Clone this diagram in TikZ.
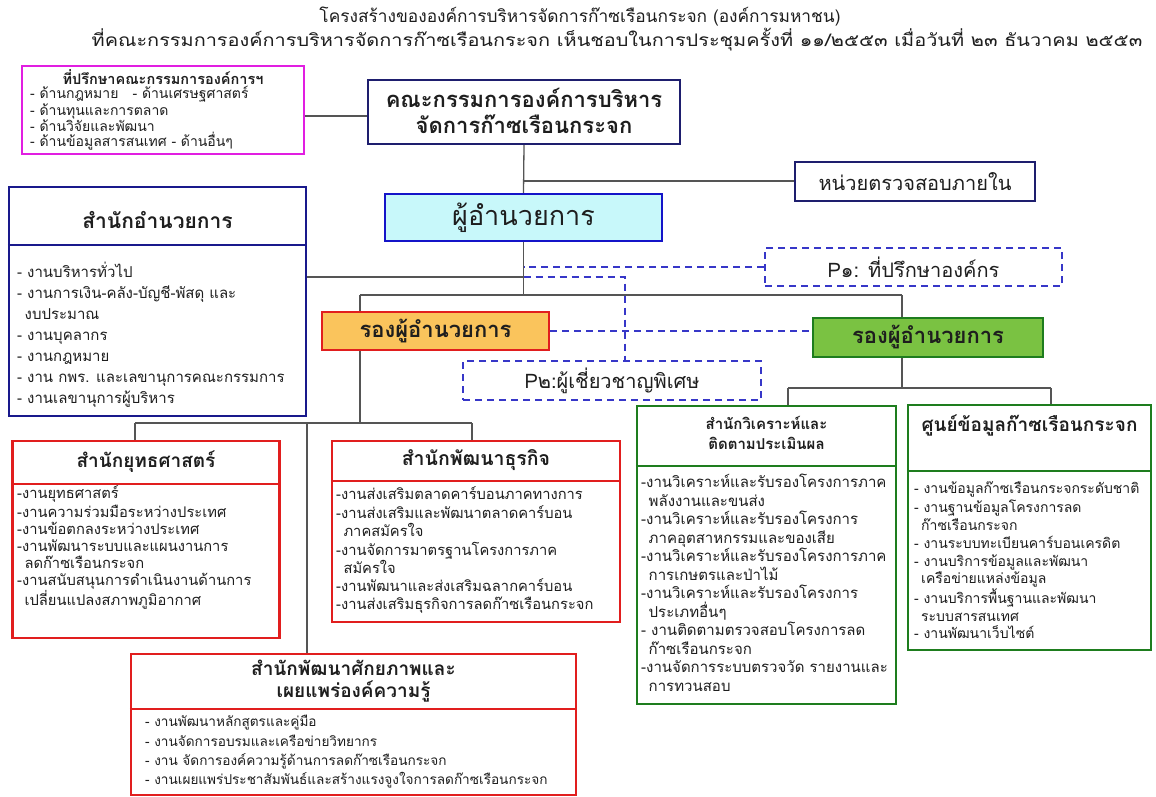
\documentclass[tikz,border=0pt]{standalone}
\usepackage{graphicx}
\usepackage{fontspec}
\setmainfont[Script=Thai]{Loma}
\definecolor{mag}{RGB}{225,30,225}
\definecolor{navy}{RGB}{30,30,110}
\definecolor{bluebd}{RGB}{20,20,200}
\definecolor{cyanfill}{RGB}{200,248,250}
\definecolor{adminbd}{RGB}{25,25,140}
\definecolor{redbd}{RGB}{225,30,30}
\definecolor{orangefill}{RGB}{250,196,92}
\definecolor{greenfill}{RGB}{122,194,66}
\definecolor{greenbd}{RGB}{30,125,30}
\definecolor{dashblue}{RGB}{55,55,200}
\definecolor{linegray}{RGB}{85,85,85}
\definecolor{txt}{RGB}{30,30,30}
\newcommand\setfs[2]{\fontsize{#1}{#2}\selectfont}
\tikzset{
  conn/.style={draw=linegray, line width=1.3pt},
  dl/.style={draw=dashblue, line width=1.8pt, dash pattern=on 7pt off 5pt},
  box/.style={rectangle, draw, line width=2.4pt, fill=white, inner sep=0pt, text=txt},
  dbox/.style={rectangle, dl, fill=white, inner sep=0pt, text=txt},
  hdr/.style={inner sep=0pt, align=center, text=txt},
  body/.style={anchor=north west, align=left, inner sep=0pt, text=txt},
  sep/.style={line width=2.4pt},
}
\begin{document}
\begin{tikzpicture}[x=1pt,y=-1pt]
\useasboundingbox[fill=white] (0,0) rectangle (1156,797);
% titles
\node[hdr, font={\setfs{17.3}{20}}] (t1) at (580,17) {โครงสร้างขององค์การบริหารจัดการก๊าซเรือนกระจก (องค์การมหาชน)};
\node[hdr, font={\setfs{17.3}{20}}] (t2) at (617,40) {\scalebox{1.15}[1]{ที่คณะกรรมการองค์การบริหารจัดการก๊าซเรือนกระจก เห็นชอบในการประชุมครั้งที่ ๑๑/๒๕๕๓ เมื่อวันที่ ๒๓ ธันวาคม ๒๕๕๓}};

% boxes
\node[box, draw=mag, minimum width=282, minimum height=88] (adv) at (163,110) {};
\node[box, draw=navy, minimum width=312, minimum height=64] (comm) at (524,112) {};
\node[box, draw=navy, minimum width=240, minimum height=39, font={\setfs{20}{22}}] (audit) at (915,181.5) {หน่วยตรวจสอบภายใน};
\node[box, draw=bluebd, fill=cyanfill, minimum width=277, minimum height=47, font={\setfs{27}{30}}] (dir) at (523.5,217.5) {ผู้อำนวยการ};
\node[box, draw=adminbd, minimum width=297, minimum height=229] (admin) at (157.5,301.5) {};
\node[dbox, minimum width=297, minimum height=38, font={\setfs{20}{22}}] (p1) at (913.5,267) {P๑: ที่ปรึกษาองค์กร};
\node[box, draw=redbd, fill=orangefill, minimum width=227, minimum height=38, font={\setfs{22}{24}\bfseries}] (dep1) at (435.5,331) {รองผู้อำนวยการ};
\node[box, draw=greenbd, fill=greenfill, minimum width=230, minimum height=39, font={\setfs{22}{24}\bfseries}] (dep2) at (928,337.5) {รองผู้อำนวยการ};
\node[dbox, minimum width=298, minimum height=39, font={\setfs{20}{22}}] (p2) at (612,380.5) {P๒:ผู้เชี่ยวชาญพิเศษ};
\node[box, draw=redbd, minimum width=267, minimum height=197] (strat) at (146,539.5) {};
\node[box, draw=redbd, minimum width=288, minimum height=181] (biz) at (476,531.5) {};
\node[box, draw=redbd, minimum width=445, minimum height=141] (cap) at (353.5,724.5) {};
\node[box, draw=greenbd, minimum width=259, minimum height=298] (g1) at (766.5,555) {};
\node[box, draw=greenbd, minimum width=243, minimum height=245] (g2) at (1029.5,527.5) {};

% header separators
\draw[sep, draw=adminbd] (admin.west |- 0,245) -- (admin.east |- 0,245);
\draw[sep, draw=redbd] (strat.west |- 0,484) -- (strat.east |- 0,484);
\draw[sep, draw=redbd] (biz.west |- 0,481) -- (biz.east |- 0,481);
\draw[sep, draw=redbd] (cap.west |- 0,709) -- (cap.east |- 0,709);
\draw[sep, draw=greenbd] (g1.west |- 0,466) -- (g1.east |- 0,466);
\draw[sep, draw=greenbd] (g2.west |- 0,471) -- (g2.east |- 0,471);

% texts inside boxes
\node[hdr, font={\setfs{14.5}{17}\bfseries}] (advh) at (163,77) {ที่ปรึกษาคณะกรรมการองค์การฯ};
\node[body, font={\setfs{14}{15.5}}] (advb) at (30,85.7) {\strut- ด้านกฎหมาย \ \ - ด้านเศรษฐศาสตร์\\- ด้านทุนและการตลาด\\- ด้านวิจัยและพัฒนา\\- ด้านข้อมูลสารสนเทศ - ด้านอื่นๆ};
\node[hdr, font={\setfs{22}{26}\bfseries}] (commt) at (524,111) {คณะกรรมการองค์การบริหาร\\จัดการก๊าซเรือนกระจก};
\node[hdr, font={\setfs{21}{24}\bfseries}] (adminh) at (157.5,220) {สำนักอำนวยการ};
\node[body, font={\setfs{15}{21}}] (adminb) at (17,262) {\strut- งานบริหารทั่วไป\\- งานการเงิน-คลัง-บัญชี-พัสดุ และ\\\hspace*{0.5em}งบประมาณ\\- งานบุคลากร\\- งานกฎหมาย\\- งาน กพร. และเลขานุการคณะกรรมการ\\- งานเลขานุการผู้บริหาร};
\node[hdr, font={\setfs{19}{22}\bfseries}] (strath) at (146,462) {สำนักยุทธศาสตร์};
\node[body, font={\setfs{14.7}{17.2}}] (stratb) at (17,485.5) {\strut-งานยุทธศาสตร์\\-งานความร่วมมือระหว่างประเทศ\\-งานข้อตกลงระหว่างประเทศ\\-งานพัฒนาระบบและแผนงานการ\\\hspace*{0.5em}ลดก๊าซเรือนกระจก\\-งานสนับสนุนการดำเนินงานด้านการ\\\hspace*{0.5em}เปลี่ยนแปลงสภาพภูมิอากาศ};
\node[hdr, font={\setfs{19.5}{22}\bfseries}] (bizh) at (476,460) {สำนักพัฒนาธุรกิจ};
\node[body, font={\setfs{14.7}{18.3}}] (bizb) at (336,486) {\strut-งานส่งเสริมตลาดคาร์บอนภาคทางการ\\-งานส่งเสริมและพัฒนาตลาดคาร์บอน\\\hspace*{0.5em}ภาคสมัครใจ\\-งานจัดการมาตรฐานโครงการภาค\\\hspace*{0.5em}สมัครใจ\\-งานพัฒนาและส่งเสริมฉลากคาร์บอน\\-งานส่งเสริมธุรกิจการลดก๊าซเรือนกระจก};
\node[hdr, font={\setfs{19}{22}\bfseries}] (caph) at (353.5,681) {สำนักพัฒนาศักยภาพและ\\เผยแพร่องค์ความรู้};
\node[body, font={\setfs{13.6}{19.3}}] (capb) at (145,713) {\strut- งานพัฒนาหลักสูตรและคู่มือ\\- งานจัดการอบรมและเครือข่ายวิทยากร\\- งาน จัดการองค์ความรู้ด้านการลดก๊าซเรือนกระจก\\- งานเผยแพร่ประชาสัมพันธ์และสร้างแรงจูงใจการลดก๊าซเรือนกระจก};
\node[hdr, font={\setfs{15}{20}\bfseries}] (g1h) at (766.5,433) {สำนักวิเคราะห์และ\\ติดตามประเมินผล};
\node[body, font={\setfs{15}{18.5}}] (g1b) at (641,474) {\strut-งานวิเคราะห์และรับรองโครงการภาค\\\hspace*{0.5em}พลังงานและขนส่ง\\-งานวิเคราะห์และรับรองโครงการ\\\hspace*{0.5em}ภาคอุตสาหกรรมและของเสีย\\-งานวิเคราะห์และรับรองโครงการภาค\\\hspace*{0.5em}การเกษตรและป่าไม้\\-งานวิเคราะห์และรับรองโครงการ\\\hspace*{0.5em}ประเภทอื่นๆ\\- งานติดตามตรวจสอบโครงการลด\\\hspace*{0.5em}ก๊าซเรือนกระจก\\-งานจัดการระบบตรวจวัด รายงานและ\\\hspace*{0.5em}การทวนสอบ};
\node[hdr, font={\setfs{19}{22}\bfseries}] (g2h) at (1029.5,425) {ศูนย์ข้อมูลก๊าซเรือนกระจก};
\node[body, font={\setfs{14}{17.8}}] (g2b) at (914,481) {\strut- งานข้อมูลก๊าซเรือนกระจกระดับชาติ\\- งานฐานข้อมูลโครงการลด\\\hspace*{0.5em}ก๊าซเรือนกระจก\\- งานระบบทะเบียนคาร์บอนเครดิต\\- งานบริการข้อมูลและพัฒนา\\\hspace*{0.5em}เครือข่ายแหล่งข้อมูล\\- งานบริการพื้นฐานและพัฒนา\\\hspace*{0.5em}ระบบสารสนเทศ\\- งานพัฒนาเว็บไซต์};

% junction coordinates
\coordinate (j1) at (523.5,181);
\coordinate (j2) at (523.5,277);
\coordinate (j3) at (523.5,295);
\coordinate (k) at (625,277);
\coordinate (h1) at (360,295);
\coordinate (h2) at (902,295);
\coordinate (lt) at (360,423);
\coordinate (la) at (135,423);
\coordinate (lb) at (472,423);
\coordinate (lc) at (307,423);
\coordinate (rt) at (902,388);
\coordinate (ra) at (788,388);
\coordinate (rb) at (1051,388);

% connectors
\draw[conn] ([yshift=-4pt]comm.west) -- ([yshift=-4pt]comm.west -| adv.east);
\draw[conn] (comm.south) -- (dir.north);
\draw[conn] (j1) -- (j1 -| audit.west);
\draw[conn] (dir.south) -- (j3);
\draw[conn] (admin.east |- j2) -- (j2);
\draw[dl] (p1.west) -- (p1.west -| dir.south);
\draw[dl] (j2) -- (k) -- (k |- p2.north);
\draw[conn] (h1) -- (h2);
\draw[conn] (h1) -- (h1 |- dep1.north);
\draw[conn] (h2) -- (h2 |- dep2.north);
\draw[dl] (dep1.east) -- (dep1.east -| dep2.west);
\draw[conn] (lt |- dep1.south) -- (lt);
\draw[conn] (la) -- (lb);
\draw[conn] (la) -- (la |- strat.north);
\draw[conn] (lb) -- (lb |- biz.north);
\draw[conn] (lc) -- (lc |- cap.north);
\draw[conn] (rt |- dep2.south) -- (rt);
\draw[conn] (ra) -- (rb);
\draw[conn] (ra) -- (ra |- g1.north);
\draw[conn] (rb) -- (rb |- g2.north);
\end{tikzpicture}
\end{document}
